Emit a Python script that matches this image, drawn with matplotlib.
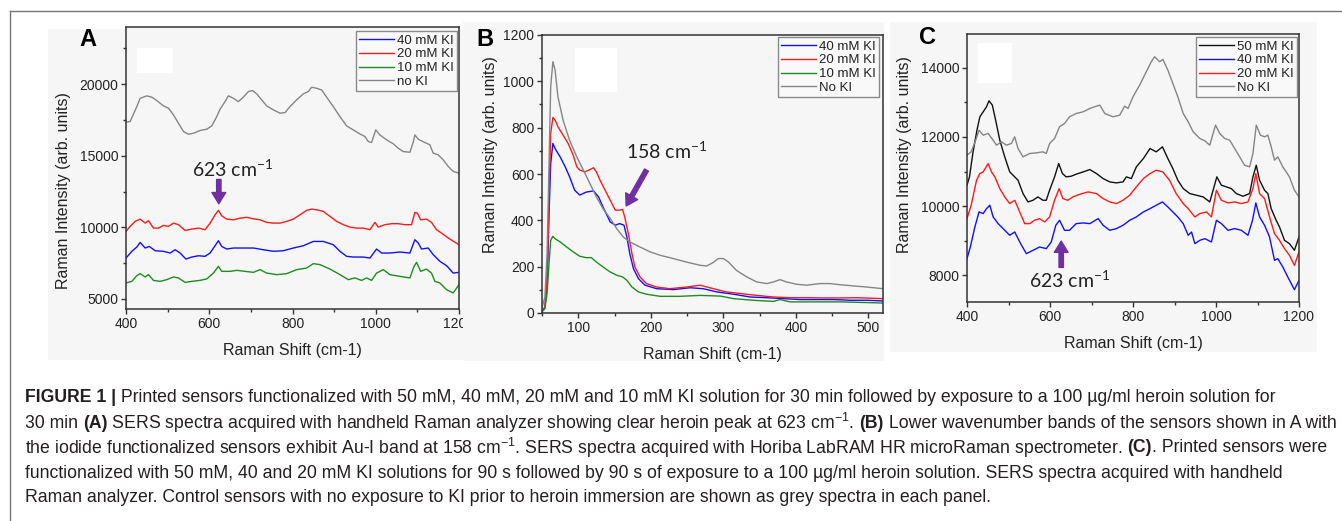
import matplotlib
matplotlib.use('Agg')
import matplotlib.pyplot as plt
from matplotlib import font_manager
from matplotlib.patches import Rectangle
from matplotlib.lines import Line2D
from matplotlib.transforms import Bbox
from matplotlib.ticker import MultipleLocator

# ---------------- data ----------------
# panel A: handheld Raman, 400-1200 cm-1
a_nokI_x = [400, 410, 426, 434, 450, 462, 474, 490, 502, 514, 526, 538, 550, 562, 578, 594, 606, 618, 626,
            638, 646, 658, 670, 682, 694, 704, 714, 726, 738, 754, 770, 782, 794, 810, 826, 838, 846, 858,
            870, 882, 898, 914, 930, 946, 962, 974, 982, 990, 1000, 1010, 1026, 1042, 1054, 1066, 1082,
            1090, 1094, 1102, 1118, 1130, 1138, 1150, 1162, 1174, 1186, 1200]
a_nokI_y = [17350, 17400, 18440, 19020, 19190, 19100, 18860, 18490, 18330, 17860, 17280, 16700, 16510, 16580,
            16770, 16860, 17090, 17740, 18260, 18790, 19190, 19020, 18790, 19100, 19490, 19560, 19330, 18910,
            18490, 18210, 17980, 18020, 18440, 18910, 19330, 19490, 19790, 19720, 19600, 19100, 18440, 17740,
            17090, 16810, 16530, 16350, 16000, 15930, 16810, 16460, 16120, 15840, 15530, 15300, 15250, 15950,
            16460, 16160, 15930, 15770, 15190, 15070, 14720, 14260, 13910, 13790]

a_20_x = [400, 410, 422, 434, 446, 454, 466, 478, 490, 502, 514, 526, 542, 558, 574, 590, 602, 614, 622, 630,
          642, 658, 674, 690, 706, 722, 738, 754, 770, 786, 802, 818, 834, 846, 858, 874, 890, 906, 922, 938,
          954, 970, 986, 998, 1006, 1022, 1038, 1054, 1070, 1086, 1094, 1100, 1108, 1122, 1134, 1146, 1158,
          1174, 1200]
a_20_y = [9720, 10070, 10420, 10580, 10300, 10470, 9950, 9950, 10140, 10070, 10300, 10190, 9790, 9880, 9950,
          9840, 10300, 10880, 11190, 10810, 10580, 10530, 10650, 10700, 10600, 10530, 10350, 10300, 10300,
          10420, 10580, 10880, 11190, 11280, 11230, 11120, 10770, 10420, 10190, 10020, 9950, 9950, 9840,
          10350, 10020, 10190, 10260, 10260, 10190, 10190, 11050, 11000, 10530, 10580, 10350, 9840, 9600,
          9260, 8790]

a_40_x = [400, 414, 426, 434, 446, 456, 470, 490, 506, 518, 530, 544, 558, 574, 590, 602, 614, 622, 630, 642,
          658, 682, 706, 730, 754, 778, 802, 826, 850, 874, 898, 914, 930, 946, 970, 986, 1002, 1014, 1034,
          1058, 1082, 1094, 1102, 1110, 1126, 1138, 1154, 1170, 1186, 1200]
a_40_y = [7860, 8330, 8630, 8950, 8560, 8670, 8370, 8330, 8210, 8440, 8210, 7790, 7930, 8020, 7980, 8210,
          8720, 9070, 8670, 8490, 8560, 8560, 8560, 8440, 8330, 8370, 8560, 8720, 9020, 9020, 8790, 8330,
          7980, 7930, 7930, 7860, 8490, 8210, 8210, 8280, 8210, 9140, 8910, 8490, 8560, 8100, 7630, 7330,
          6810, 6860]

a_10_x = [400, 414, 426, 434, 446, 454, 466, 482, 498, 514, 526, 542, 558, 578, 594, 610, 622, 630, 650, 666,
          686, 706, 722, 738, 762, 786, 810, 834, 850, 866, 890, 914, 934, 950, 966, 978, 990, 1002, 1018,
          1034, 1058, 1082, 1092, 1098, 1108, 1122, 1134, 1142, 1154, 1170, 1186, 1200]
a_10_y = [6120, 6230, 6630, 6770, 6540, 6700, 6300, 6230, 6350, 6540, 6470, 6160, 6230, 6300, 6400, 6810,
          7280, 6930, 6930, 7000, 6930, 6860, 7050, 6810, 6700, 6770, 7050, 7160, 7470, 7400, 7090, 6700,
          6350, 6470, 6300, 6470, 6300, 6810, 7050, 6700, 6580, 6470, 7280, 7560, 6930, 7090, 6810, 6230,
          6120, 5650, 5420, 6000]

# panel B: LabRAM, 50-520 cm-1
b_nokI_x = [49, 54, 57, 60, 62, 65, 68, 72, 79, 88, 98, 107, 116, 125, 134, 144, 153, 162, 171, 185, 199,
            213, 231, 249, 268, 277, 286, 293, 300, 307, 318, 332, 346, 360, 369, 378, 387, 401, 415, 433,
            447, 461, 479, 498, 520]
b_nokI_y = [11, 69, 256, 689, 977, 1085, 1049, 933, 833, 746, 674, 617, 559, 501, 451, 408, 364, 328, 307,
            285, 264, 249, 235, 220, 206, 203, 218, 235, 235, 220, 184, 156, 134, 127, 134, 144, 134, 124,
            120, 127, 127, 122, 117, 112, 105]

b_20_x = [49, 54, 57, 60, 62, 65, 68, 72, 79, 86, 93, 98, 102, 109, 116, 121, 125, 130, 137, 144, 151, 157,
          161, 164, 169, 174, 178, 185, 194, 208, 226, 249, 268, 286, 304, 323, 346, 369, 392, 415, 438, 461,
          484, 520]
b_20_y = [4, 26, 141, 545, 775, 844, 833, 804, 768, 732, 681, 631, 617, 609, 619, 627, 609, 573, 530, 487,
          444, 444, 447, 415, 343, 256, 199, 156, 127, 112, 105, 112, 120, 105, 91, 84, 76, 69, 66, 66, 65,
          65, 66, 62]

b_40_x = [49, 54, 57, 60, 62, 65, 68, 75, 82, 88, 95, 102, 111, 121, 128, 134, 144, 151, 157, 163, 167, 171,
          176, 183, 192, 208, 231, 254, 272, 291, 314, 337, 360, 383, 406, 429, 452, 475, 498, 520]
b_40_y = [4, 23, 127, 458, 645, 732, 710, 674, 631, 588, 530, 509, 522, 527, 501, 458, 393, 379, 386, 379,
          328, 256, 192, 148, 120, 105, 101, 109, 105, 91, 81, 69, 66, 62, 58, 58, 58, 55, 55, 52]

b_10_x = [49, 54, 57, 60, 62, 65, 68, 75, 84, 93, 102, 111, 118, 125, 134, 144, 153, 161, 167, 174, 183, 194,
          213, 240, 268, 296, 314, 341, 369, 378, 392, 424, 461, 498, 520]
b_10_y = [1, 19, 84, 228, 314, 331, 321, 307, 285, 264, 245, 239, 239, 220, 199, 177, 163, 156, 141, 112,
          91, 81, 72, 72, 76, 73, 62, 55, 50, 58, 48, 48, 48, 45, 43]

# panel C: handheld Raman, short exposure
c_nokI_x = [400, 410, 421, 429, 439, 451, 463, 471, 483, 495, 507, 515, 523, 535, 551, 567, 583, 591, 599,
            611, 623, 635, 647, 663, 680, 696, 712, 720, 732, 752, 768, 780, 788, 800, 816, 832, 844, 852,
            864, 872, 884, 896, 908, 921, 933, 945, 961, 973, 985, 993, 999, 1009, 1021, 1033, 1045, 1057,
            1069, 1081, 1089, 1097, 1107, 1117, 1125, 1133, 1141, 1149, 1161, 1177, 1189, 1200]
c_nokI_y = [11473, 11570, 11907, 12196, 12052, 12100, 11907, 11762, 11859, 11762, 11810, 12003, 11666,
            11424, 11521, 11540, 11569, 11521, 11810, 11955, 12293, 12389, 12582, 12678, 12727, 12823,
            12891, 12920, 12678, 12582, 12630, 12891, 12823, 13161, 13498, 13884, 14174, 14318, 14174,
            14241, 13932, 13547, 13161, 12678, 12437, 12148, 11955, 11888, 11762, 12100, 12341, 12100,
            11955, 11907, 11666, 11424, 11183, 11135, 11521, 12341, 12052, 12003, 12052, 11714, 11328,
            11424, 11135, 10846, 10460, 10267]

c_50_x = [400, 406, 414, 424, 431, 439, 447, 453, 461, 469, 479, 491, 503, 511, 523, 535, 547, 559, 571, 583,
          591, 599, 611, 621, 630, 639, 651, 663, 680, 696, 712, 728, 744, 760, 776, 784, 796, 808, 825, 841,
          856, 871, 884, 896, 908, 921, 937, 953, 969, 985, 993, 1002, 1013, 1025, 1037, 1049, 1065, 1081,
          1089, 1097, 1105, 1117, 1125, 1133, 1145, 1153, 1165, 1177, 1189, 1200]
c_50_y = [10605, 10846, 11521, 12196, 12582, 12727, 12871, 13045, 12920, 12486, 11907, 11424, 10990, 10894,
          10749, 10363, 10122, 10170, 10267, 10170, 10170, 10460, 10846, 11232, 10942, 10846, 10865, 10923,
          10990, 11058, 10942, 10797, 10701, 10672, 10701, 10846, 10797, 11135, 11376, 11666, 11569, 11714,
          11376, 11087, 10749, 10508, 10363, 10315, 10267, 10122, 10460, 10846, 10605, 10557, 10508, 10363,
          10286, 10363, 10846, 11183, 10749, 10460, 10363, 9929, 9592, 9399, 9013, 8917, 8724, 9110]

c_40_x = [400, 408, 419, 429, 439, 447, 455, 463, 475, 487, 503, 515, 527, 543, 559, 575, 591, 603, 614, 623,
          635, 647, 663, 680, 696, 716, 728, 744, 760, 776, 792, 808, 825, 841, 856, 871, 884, 896, 908, 921,
          933, 941, 949, 961, 973, 989, 1001, 1013, 1029, 1045, 1061, 1077, 1088, 1096, 1105, 1117, 1129,
          1141, 1149, 1161, 1173, 1189, 1200]
c_40_y = [8483, 8820, 9399, 9833, 9785, 9929, 10026, 9688, 9495, 9351, 9158, 9254, 8965, 8627, 8724, 8820,
          8772, 8965, 9447, 9592, 9302, 9302, 9495, 9515, 9495, 9640, 9447, 9302, 9351, 9447, 9592, 9688,
          9833, 9929, 10026, 10122, 9977, 9833, 9688, 9495, 9158, 9254, 8917, 9013, 9061, 8965, 9592, 9495,
          9302, 9351, 9302, 9158, 9592, 10093, 9688, 9447, 9110, 8434, 8483, 8241, 7952, 7586, 7856]

c_20_x = [400, 410, 423, 431, 439, 451, 459, 467, 479, 491, 503, 515, 527, 539, 551, 563, 575, 587, 599, 611,
          622, 631, 643, 655, 672, 692, 712, 728, 744, 760, 776, 792, 808, 825, 841, 856, 872, 888, 904, 921,
          933, 949, 961, 977, 989, 1001, 1013, 1029, 1045, 1061, 1077, 1089, 1096, 1105, 1117, 1129, 1141,
          1153, 1165, 1177, 1189, 1200]
c_20_y = [9640, 10026, 10749, 10942, 10990, 11232, 10990, 10846, 10508, 10267, 10074, 10170, 9833, 9495,
          9495, 9592, 9640, 9543, 9688, 10170, 10508, 10219, 10170, 10267, 10344, 10412, 10363, 10219, 10122,
          10074, 10170, 10315, 10557, 10797, 10942, 11038, 10990, 10749, 10363, 10074, 9929, 9688, 9785,
          9833, 9688, 10460, 10170, 10093, 10122, 10074, 10122, 10508, 10942, 10363, 10219, 9688, 9206,
          9013, 8772, 8579, 8290, 8675]

labels_a = ['40 mM KI', '20 mM KI', '10 mM KI', 'no KI']
labels_b = ['40 mM KI', '20 mM KI', '10 mM KI', 'No KI']
labels_c = ['50 mM KI', '40 mM KI', '20 mM KI', 'No KI']

caption = [
    [("FIGURE 1 |", True),
     (" Printed sensors functionalized with 50 mM, 40 mM, 20 mM and 10 mM KI solution for 30 min followed "
      "by exposure to a 100 \u00b5g/ml heroin solution for", False)],
    [("30 min ", False), ("(A)", True),
     (" SERS spectra acquired with handheld Raman analyzer showing clear heroin peak at 623 cm$^{\\mathregular{-1}}$. ", False),
     ("(B)", True), (" Lower wavenumber bands of the sensors shown in A with", False)],
    [("the iodide functionalized sensors exhibit Au-I band at 158 cm$^{\\mathregular{-1}}$. SERS spectra acquired "
      "with Horiba LabRAM HR microRaman spectrometer. ", False), ("(C)", True), (". Printed sensors were", False)],
    [("functionalized with 50 mM, 40 and 20 mM KI solutions for 90 s followed by 90 s of exposure to a "
      "100 \u00b5g/ml heroin solution. SERS spectra acquired with handheld", False)],
    [("Raman analyzer. Control sensors with no exposure to KI prior to heroin immersion are shown as grey "
      "spectra in each panel.", False)],
]

# ---------------- styling ----------------
W, H = 1342, 521
BLUE, RED, GREEN, GRAY, BLACK = '#1010ff', '#ff1a1a', '#1e8c1e', '#858585', '#111111'
PURPLE = '#7030a0'
BG = '#f6f6f6'

names = {f.name for f in font_manager.fontManager.ttflist}
AX_FONT = 'Liberation Sans' if 'Liberation Sans' in names else 'DejaVu Sans'
CAP_FONT = 'Liberation Sans Narrow' if 'Liberation Sans Narrow' in names else AX_FONT
ANN_FONT = 'Lato' if 'Lato' in names else 'Open Sans'

plt.rcParams['font.family'] = [AX_FONT, 'DejaVu Sans']
plt.rcParams['axes.linewidth'] = 1.1
plt.rcParams['axes.edgecolor'] = '#333333'


def px_axes(fig, l, t, r, b):
    return fig.add_axes([l / W, 1 - b / H, (r - l) / W, (b - t) / H])


def px_rect(fig, l, t, r, b, color, z=-5):
    fig.patches.append(Rectangle((l / W, 1 - b / H), (r - l) / W, (b - t) / H,
                                 transform=fig.transFigure, color=color, zorder=z, lw=0))


def style(ax):
    ax.set_facecolor(BG)
    ax.tick_params(which='major', direction='out', length=3.5, width=1, colors='#333333',
                   labelsize=10, labelcolor='#222222', pad=2)
    ax.tick_params(which='minor', direction='out', length=2, width=1, colors='#333333')
    ax.set_xlabel('Raman Shift (cm-1)', fontsize=11.5, color='#222222', labelpad=9)
    ax.set_ylabel('Raman Intensity (arb. units)', fontsize=11.5, color='#222222', labelpad=6)


def legend(ax, handles, labels, loc_px):
    leg = ax.legend(handles, labels, loc='upper right', fontsize=9.5, frameon=True, fancybox=False,
                    edgecolor='#8a8a8a', framealpha=1, facecolor='#f9f9f9', handlelength=2.6,
                    handletextpad=0.25, labelspacing=0.12, borderpad=0.25, borderaxespad=0,
                    bbox_to_anchor=loc_px, bbox_transform=plt.gcf().transFigure)
    leg.get_frame().set_linewidth(1)
    for t in leg.get_texts():
        t.set_color('#222222')
    return leg


def blank(ax, l, t, r, b):
    # white box left in the source panels
    ax.figure.patches.append(Rectangle((l / W, 1 - b / H), (r - l) / W, (b - t) / H,
                                       transform=ax.figure.transFigure, color='white', zorder=2, lw=0))


fig = plt.figure(figsize=(W / 100, H / 100), dpi=100, facecolor='white')

# panel backgrounds and page frame
px_rect(fig, 48, 29, 463, 360, BG)
px_rect(fig, 463, 22, 884, 361, BG)
px_rect(fig, 890, 22, 1317, 352, BG)
fig.add_artist(Line2D([9.5 / W, 1], [1 - 10.5 / H, 1 - 10.5 / H], transform=fig.transFigure,
                      color='#777777', lw=1))
fig.add_artist(Line2D([9.5 / W, 9.5 / W], [0, 1 - 10.5 / H], transform=fig.transFigure,
                      color='#777777', lw=1))

lw = 1.0

# ---- panel A ----
ax_a = px_axes(fig, 126, 27, 459, 309)
style(ax_a)
h1, = ax_a.plot(a_40_x, a_40_y, color=BLUE, lw=lw)
h2, = ax_a.plot(a_20_x, a_20_y, color=RED, lw=lw)
h3, = ax_a.plot(a_10_x, a_10_y, color=GREEN, lw=lw)
h4, = ax_a.plot(a_nokI_x, a_nokI_y, color=GRAY, lw=lw)
ax_a.set_xlim(400, 1200)
ax_a.set_ylim(4300, 24000)
ax_a.xaxis.set_major_locator(MultipleLocator(200))
ax_a.xaxis.set_minor_locator(MultipleLocator(100))
ax_a.yaxis.set_major_locator(MultipleLocator(5000))
ax_a.yaxis.set_minor_locator(MultipleLocator(2500))
ax_a.yaxis.get_label().set_position((0, 0.42))
legend(ax_a, [h1, h2, h3, h4], labels_a, (457 / W, 1 - 31 / H))
ax_a.text(657, 14080, '623 cm$^{\\mathregular{-1}}$', fontsize=14, family=ANN_FONT, ha='center',
          va='center', color='#222222')
ax_a.annotate('', xy=(623, 11650), xytext=(623, 13350),
              arrowprops=dict(arrowstyle='simple,head_width=1.1,head_length=0.9,tail_width=0.35',
                              color=PURPLE, mutation_scale=9, shrinkA=0, shrinkB=0))
fig.text(88 / W, 1 - 40 / H, 'A', fontsize=17, fontweight='bold', ha='center', va='center')
blank(ax_a, 137, 48, 173, 73)

# ---- panel B ----
ax_b = px_axes(fig, 542, 35, 883, 313)
style(ax_b)
g1, = ax_b.plot(b_40_x, b_40_y, color=BLUE, lw=lw)
g2, = ax_b.plot(b_20_x, b_20_y, color=RED, lw=lw)
g3, = ax_b.plot(b_10_x, b_10_y, color=GREEN, lw=lw)
g4, = ax_b.plot(b_nokI_x, b_nokI_y, color=GRAY, lw=lw)
ax_b.set_xlim(50, 520)
ax_b.set_ylim(0, 1200)
ax_b.xaxis.set_major_locator(MultipleLocator(100))
ax_b.xaxis.set_minor_locator(MultipleLocator(50))
ax_b.yaxis.set_major_locator(MultipleLocator(200))
ax_b.yaxis.set_minor_locator(MultipleLocator(100))
ax_b.set_ylabel('Raman Intensity (arb. units)', fontsize=11.5, color='#222222', labelpad=4)
ax_b.yaxis.get_label().set_position((0, 0.57))
legend(ax_b, [g1, g2, g3, g4], labels_b, (879 / W, 1 - 37 / H))
ax_b.text(222, 700, '158 cm$^{\\mathregular{-1}}$', fontsize=14, family=ANN_FONT, ha='center',
          va='center', color='#222222')
ax_b.annotate('', xy=(166, 462), xytext=(194, 617),
              arrowprops=dict(arrowstyle='simple,head_width=1.1,head_length=0.9,tail_width=0.35',
                              color=PURPLE, mutation_scale=9, shrinkA=0, shrinkB=0))
fig.text(485 / W, 1 - 39 / H, 'B', fontsize=17, fontweight='bold', ha='center', va='center')
blank(ax_b, 575, 48, 617, 92)

# ---- panel C ----
ax_c = px_axes(fig, 967, 34, 1299, 302)
style(ax_c)
k1, = ax_c.plot(c_50_x, c_50_y, color=BLACK, lw=lw)
k2, = ax_c.plot(c_40_x, c_40_y, color=BLUE, lw=lw)
k3, = ax_c.plot(c_20_x, c_20_y, color=RED, lw=lw)
k4, = ax_c.plot(c_nokI_x, c_nokI_y, color=GRAY, lw=lw)
ax_c.set_xlim(400, 1200)
ax_c.set_ylim(7230, 14975)
ax_c.xaxis.set_major_locator(MultipleLocator(200))
ax_c.xaxis.set_minor_locator(MultipleLocator(100))
ax_c.yaxis.set_major_locator(MultipleLocator(2000))
ax_c.yaxis.set_minor_locator(MultipleLocator(1000))
ax_c.yaxis.get_label().set_position((0, 0.55))
legend(ax_c, [k1, k2, k3, k4], labels_c, (1297 / W, 1 - 37 / H))
ax_c.text(647, 7875, '623 cm$^{\\mathregular{-1}}$', fontsize=14, family=ANN_FONT, ha='center',
          va='center', color='#222222')
ax_c.annotate('', xy=(627, 8990), xytext=(627, 8230),
              arrowprops=dict(arrowstyle='simple,head_width=1.1,head_length=0.9,tail_width=0.35',
                              color=PURPLE, mutation_scale=9, shrinkA=0, shrinkB=0))
fig.text(928 / W, 1 - 38 / H, 'C', fontsize=17, fontweight='bold', ha='center', va='center')
blank(ax_c, 978, 43, 1012, 83)

# ---------------- caption ----------------
renderer = fig.canvas.get_renderer()


def seg_width(txt, bold, size):
    t = fig.text(0, 0, txt + '|', fontsize=size, family=[CAP_FONT, 'DejaVu Sans'],
                 fontweight='bold' if bold else 'normal')
    t2 = fig.text(0, 0, '|', fontsize=size, family=[CAP_FONT, 'DejaVu Sans'],
                  fontweight='bold' if bold else 'normal')
    w = t.get_window_extent(renderer).width - t2.get_window_extent(renderer).width
    t.remove()
    t2.remove()
    return w


base = 12
line3_w = sum(seg_width(s, b, base) for s, b in caption[2])
cap_size = base * 1302 / line3_w
line_y = [398, 423, 448, 473, 498]
for segs, y in zip(caption, line_y):
    x = 25
    for s, b in segs:
        fig.text(x / W, 1 - y / H, s, fontsize=cap_size, family=[CAP_FONT, 'DejaVu Sans'],
                 fontweight='bold' if b else 'normal', ha='left', va='center', color='#231f20')
        x += seg_width(s, b, cap_size)

# the 1200 label of panel A is cut by the edge of the source image
fig.canvas.draw()
for lab in ax_a.get_xticklabels():
    if lab.get_text() == '1200':
        lab.set_clip_on(True)
        lab.set_clip_box(Bbox.from_extents(0, 0, 463, H))

fig.savefig('out.png', dpi=100, facecolor='white')
